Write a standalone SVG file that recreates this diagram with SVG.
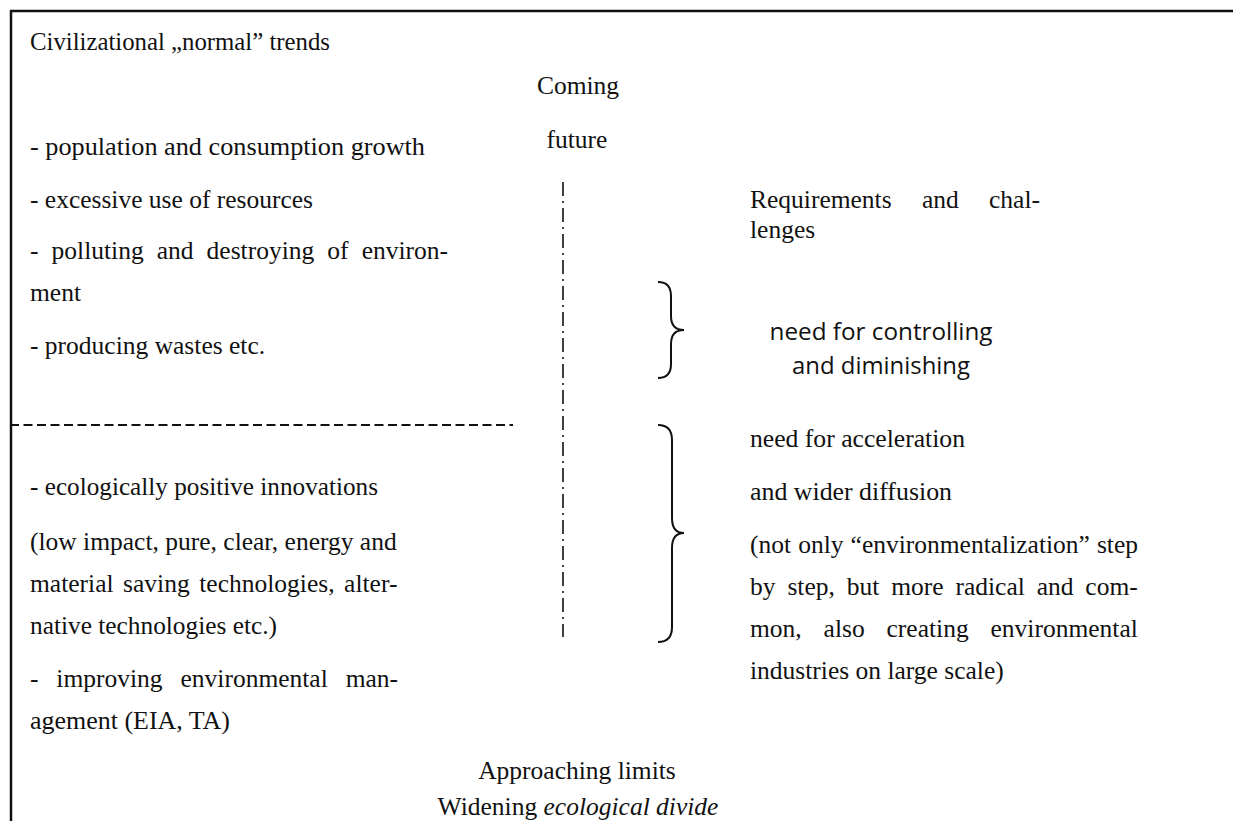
<svg xmlns="http://www.w3.org/2000/svg" width="1233" height="821" viewBox="0 0 1233 821">
<style>
.t{font-family:"Liberation Serif","Times New Roman",serif;font-size:25.5px;fill:#111}
.s{font-family:"Open Sans","Noto Sans",sans-serif;font-size:23px;fill:#111}
.c{text-anchor:middle}
.br{fill:none;stroke:#111;stroke-width:2}
</style>
<rect width="1233" height="821" fill="#fff"/>
<g id="frame">
<line x1="10" y1="11" x2="1233" y2="11" stroke="#111" stroke-width="2.5"/>
<line x1="11" y1="10" x2="11" y2="821" stroke="#111" stroke-width="2.5"/>
</g>
<g id="connectors">
<line x1="10" y1="425" x2="513" y2="425" stroke="#111" stroke-width="2" stroke-dasharray="9,4.5"/>
<line x1="563" y1="182" x2="563" y2="637" stroke="#111" stroke-width="1.6" stroke-dasharray="14,5,2,5"/>
<path class="br" d="M658,282 Q671,282 671,296 L671,316 Q671,330 684,330 Q671,330 671,344 L671,364 Q671,378 658,378"/>
<path class="br" d="M658,425 Q672,425 672,440 L672,518 Q672,533 684,533 Q672,533 672,548 L672,627 Q672,642 658,642"/>
</g>
<g id="trends">
<text class="t" x="30" y="50" textLength="300" lengthAdjust="spacingAndGlyphs">Civilizational „normal” trends</text>
<text class="t" x="30" y="155" textLength="395" lengthAdjust="spacingAndGlyphs">- population and consumption growth</text>
<text class="t" x="30" y="208" textLength="283" lengthAdjust="spacingAndGlyphs">- excessive use of resources</text>
<text class="t" x="30" y="259" word-spacing="6.7">- polluting and destroying of environ-</text>
<text class="t" x="30" y="301">ment</text>
<text class="t" x="30" y="354">- producing wastes etc.</text>
</g>
<g id="innovations">
<text class="t" x="30" y="495" textLength="348" lengthAdjust="spacingAndGlyphs">- ecologically positive innovations</text>
<text class="t" x="30" y="550">(low impact, pure, clear, energy and</text>
<text class="t" x="30" y="592" word-spacing="3.2">material saving technologies, alter-</text>
<text class="t" x="30" y="634" textLength="247" lengthAdjust="spacingAndGlyphs">native technologies etc.)</text>
<text class="t" x="30" y="687" word-spacing="11.5">- improving environmental man-</text>
<text class="t" x="30" y="729" textLength="200" lengthAdjust="spacingAndGlyphs">agement (EIA, TA)</text>
</g>
<g id="future">
<text class="t c" x="578" y="94">Coming</text>
<text class="t c" x="577" y="148">future</text>
</g>
<g id="limits">
<text class="t c" x="577" y="779">Approaching limits</text>
<text class="t c" x="578" y="815">Widening <tspan font-style="italic">ecological divide</tspan></text>
</g>
<g id="requirements">
<text class="t" x="750" y="208" word-spacing="23.9">Requirements and chal-</text>
<text class="t" x="750" y="238">lenges</text>
</g>
<g id="controlling">
<text class="s c" x="881" y="340" textLength="223" lengthAdjust="spacingAndGlyphs">need for controlling</text>
<text class="s c" x="881" y="374" textLength="178" lengthAdjust="spacingAndGlyphs">and diminishing</text>
</g>
<g id="acceleration">
<text class="t" x="750" y="447" textLength="215" lengthAdjust="spacingAndGlyphs">need for acceleration</text>
<text class="t" x="750" y="500" textLength="202" lengthAdjust="spacingAndGlyphs">and wider diffusion</text>
<text class="t" x="750" y="553" word-spacing="0.7">(not only “environmentalization” step</text>
<text class="t" x="750" y="595" word-spacing="5.5">by step, but more radical and com-</text>
<text class="t" x="750" y="637" word-spacing="15.5">mon, also creating environmental</text>
<text class="t" x="750" y="679">industries on large scale)</text>
</g>
</svg>
